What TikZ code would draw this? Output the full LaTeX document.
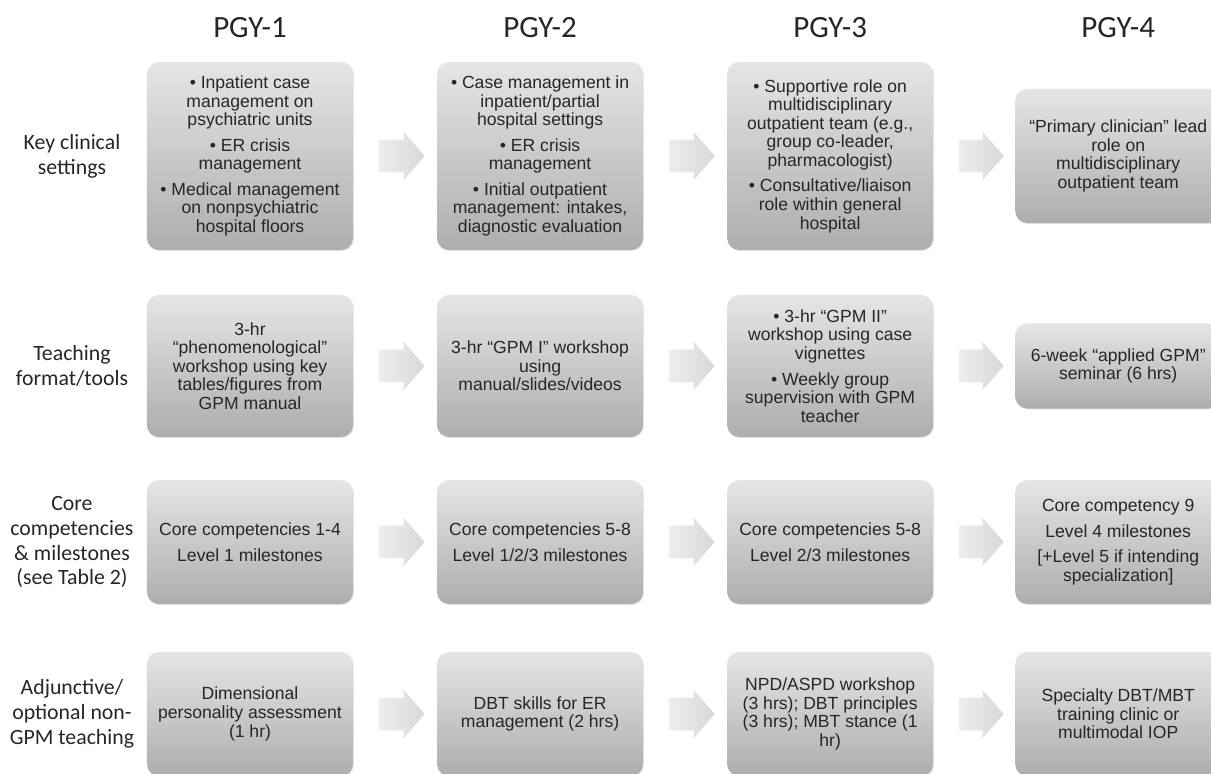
\documentclass[tikz,border=0pt]{standalone}
\usepackage{fontspec}
\setmainfont{Liberation Sans}
\newfontfamily\calfont{Carlito}
\usetikzlibrary{positioning,shapes.arrows,shadows,calc}

\begin{document}
\begin{tikzpicture}[x=0.025cm, y=-0.025cm, node distance=7.25cm, on grid,
    box/.style={rectangle, rounded corners=0.3cm, minimum width=5.15cm,
      top color=black!10, bottom color=black!32, text=black!85, align=center,
      inner sep=2pt, font=\fontsize{12.5}{13.2}\selectfont,
      drop shadow={opacity=0.18, shadow xshift=0.6pt, shadow yshift=-0.8pt}},
    hdr/.style={font=\calfont\fontsize{22}{26}\selectfont, text=black!85},
    rowlabel/.style={font=\calfont\fontsize{15.5}{17.7}\selectfont, align=center, text=black!85},
    blockarrow/.style={single arrow, draw=none, left color=black!7, right color=black!15,
      minimum height=1.125cm, inner xsep=0pt, inner ysep=0.4cm,
      single arrow head extend=0.2cm, single arrow tip angle=98}]
  \useasboundingbox (0,0) rectangle (1211,774);

  % key clinical settings
  \node (k1) [box, minimum height=4.7cm] at (250,156)
    {\textbullet{} Inpatient case\\management on\\psychiatric units\\[5pt]
     \textbullet{} ER crisis\\management\\[5pt]
     \textbullet{} Medical management\\on nonpsychiatric\\hospital floors};
  \node (k2) [box, minimum height=4.7cm, right=of k1]
    {\textbullet{} Case management in\\inpatient/partial\\hospital settings\\[5pt]
     \textbullet{} ER crisis\\management\\[5pt]
     \textbullet{} Initial outpatient\\management: intakes,\\diagnostic evaluation};
  \node (k3) [box, minimum height=4.7cm, right=of k2]
    {\textbullet{} Supportive role on\\multidisciplinary\\outpatient team (e.g.,\\group co-leader,\\pharmacologist)\\[5pt]
     \textbullet{} Consultative/liaison\\role within general\\hospital};
  \node (k4) [box, minimum height=3.35cm, right=7.2cm of k3]
    {“Primary clinician” lead\\role on\\multidisciplinary\\outpatient team};

  % teaching format
  \node (t1) [box, minimum height=3.55cm] at (250,366)
    {3-hr\\“phenomenological”\\workshop using key\\tables/figures from\\GPM manual};
  \node (t2) [box, minimum height=3.55cm, right=of t1]
    {3-hr “GPM I” workshop\\using\\manual/slides/videos};
  \node (t3) [box, minimum height=3.55cm, right=of t2]
    {\textbullet{} 3-hr “GPM II”\\workshop using case\\vignettes\\[5pt]
     \textbullet{} Weekly group\\supervision with GPM\\teacher};
  \node (t4) [box, minimum height=2.125cm, right=7.2cm of t3]
    {6-week “applied GPM”\\seminar (6 hrs)};

  % competencies
  \node (c1) [box, minimum height=3.1cm] at (250,542)
    {Core competencies 1-4\\[5pt]Level 1 milestones};
  \node (c2) [box, minimum height=3.1cm, right=of c1]
    {Core competencies 5-8\\[5pt]Level 1/2/3 milestones};
  \node (c3) [box, minimum height=3.1cm, right=of c2]
    {Core competencies 5-8\\[5pt]Level 2/3 milestones};
  \node (c4) [box, minimum height=3.1cm, right=7.2cm of c3]
    {Core competency 9\\[5pt]Level 4 milestones\\[5pt]{[}+Level 5 if intending\\specialization]};

  % adjunctive teaching
  \node (a1) [box, minimum height=3.1cm] at (250,714)
    {Dimensional\\personality assessment\\(1 hr)};
  \node (a2) [box, minimum height=3.1cm, right=of a1]
    {DBT skills for ER\\management (2 hrs)};
  \node (a3) [box, minimum height=3.1cm, right=of a2]
    {NPD/ASPD workshop\\(3 hrs); DBT principles\\(3 hrs); MBT stance (1\\hr)};
  \node (a4) [box, minimum height=3.1cm, right=7.2cm of a3]
    {Specialty DBT/MBT\\training clinic or\\multimodal IOP};

  % year headers
  \node (y1) [hdr, above=3.2cm of k1] {PGY-1};
  \node (y2) [hdr, above=3.2cm of k2] {PGY-2};
  \node (y3) [hdr, above=3.2cm of k3] {PGY-3};
  \node (y4) [hdr, above=3.2cm of k4] {PGY-4};

  % row labels
  \node (lk) [rowlabel, left=4.45cm of k1] {Key clinical\\settings};
  \node (lt) [rowlabel, left=4.45cm of t1] {Teaching\\format/tools};
  \node (lc) [rowlabel, left=4.45cm of c1] {Core\\competencies\\\& milestones\\(see Table 2)};
  \node (la) [rowlabel, left=4.45cm of a1] {Adjunctive/\\optional non-\\GPM teaching};

  % arrows between years
  \foreach \r in {k,t,c,a}{
    \node (\r12) [blockarrow] at ($(\r1.east)!0.5!(\r2.west)$) {};
    \node (\r23) [blockarrow] at ($(\r2.east)!0.5!(\r3.west)$) {};
    \node (\r34) [blockarrow] at ($(\r3.east)!0.5!(\r4.west)$) {};
  }
\end{tikzpicture}
\end{document}
